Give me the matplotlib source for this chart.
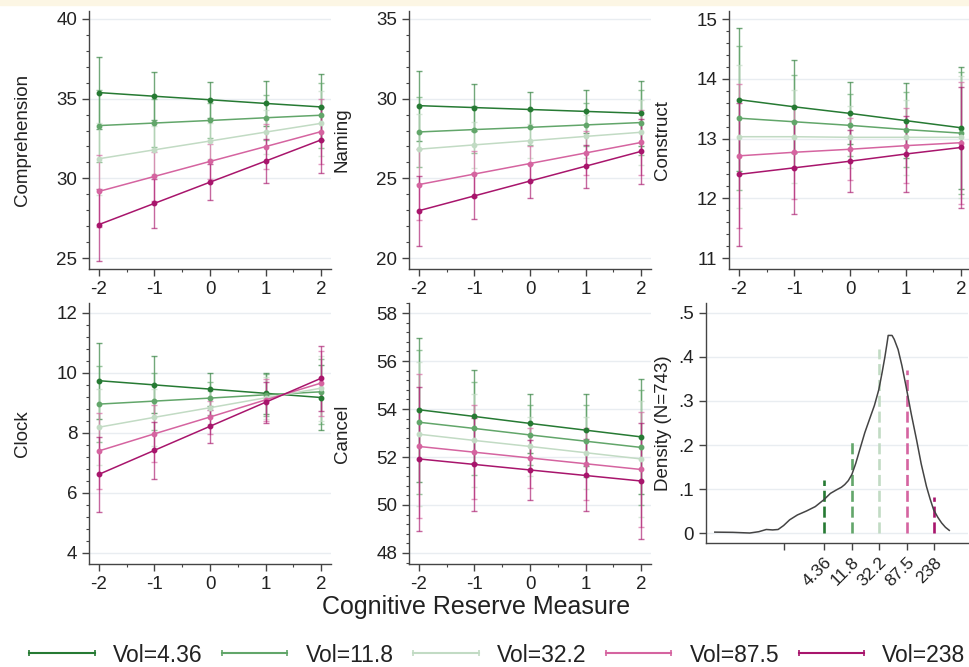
import numpy as np
import matplotlib
matplotlib.use("Agg")
import matplotlib.pyplot as plt
from matplotlib.lines import Line2D
from matplotlib.patches import Rectangle
from matplotlib.ticker import MultipleLocator, FixedLocator

plt.rcParams['font.family'] = ['Liberation Sans', 'DejaVu Sans']

W, H = 969, 667

cr_levels = [-2, -1, 0, 1, 2]
vol_levels = [4.36, 11.8, 32.2, 87.5, 238]
vol_labels = ["4.36", "11.8", "32.2", "87.5", "238"]
vol_colors = ["#267a33", "#62a66a", "#c2dbc4", "#d564a0", "#a8156c"]

# predicted scores, one row per volume level (4.36 ... 238)
comprehension = [
    [35.38, 35.15, 34.93, 34.70, 34.48],
    [33.31, 33.47, 33.63, 33.80, 33.96],
    [31.23, 31.79, 32.34, 32.90, 33.45],
    [29.18, 30.12, 31.06, 31.99, 32.93],
    [27.10, 28.43, 29.76, 31.08, 32.41],
]
comprehension_ci = [2.26, 1.52, 1.12, 1.40, 2.05]

naming = [
    [29.56, 29.44, 29.32, 29.20, 29.08],
    [27.91, 28.06, 28.20, 28.35, 28.50],
    [26.83, 27.10, 27.36, 27.63, 27.89],
    [24.61, 25.27, 25.93, 26.59, 27.25],
    [22.97, 23.90, 24.83, 25.76, 26.69],
]
naming_ci = [2.20, 1.45, 1.08, 1.35, 2.03]

construct = [
    [13.65, 13.53, 13.42, 13.30, 13.18],
    [13.34, 13.28, 13.22, 13.15, 13.09],
    [13.03, 13.03, 13.02, 13.02, 13.02],
    [12.71, 12.77, 12.82, 12.88, 12.93],
    [12.40, 12.51, 12.62, 12.74, 12.85],
]
construct_ci = [1.20, 0.78, 0.52, 0.63, 1.02]

clock = [
    [9.74, 9.60, 9.46, 9.32, 9.18],
    [8.96, 9.06, 9.16, 9.27, 9.37],
    [8.19, 8.52, 8.84, 9.17, 9.49],
    [7.40, 7.97, 8.53, 9.10, 9.66],
    [6.62, 7.42, 8.22, 9.02, 9.82],
]
clock_ci = [1.26, 0.95, 0.55, 0.69, 1.08]

cancel = [
    [53.97, 53.69, 53.40, 53.12, 52.84],
    [53.45, 53.19, 52.92, 52.66, 52.40],
    [52.95, 52.69, 52.44, 52.18, 51.92],
    [52.44, 52.20, 51.96, 51.72, 51.48],
    [51.92, 51.69, 51.46, 51.23, 51.00],
]
cancel_ci = [3.00, 1.95, 1.24, 1.50, 2.40]

# kernel density of log(volume)
density_logvol = [-2.50, -1.84, -1.23, -0.90, -0.63, -0.40, -0.20, 0.00, 0.22, 0.50,
                  0.83, 1.15, 1.47, 1.70, 1.92, 2.10, 2.22, 2.35, 2.48, 2.62,
                  2.77, 2.95, 3.13, 3.30, 3.46, 3.58, 3.68, 3.76, 3.80, 3.94,
                  4.02, 4.16, 4.30, 4.45, 4.64, 4.83, 5.00, 5.19, 5.32, 5.45,
                  5.60, 5.74, 5.88, 6.02]
density_vals = [0.002, 0.0015, 0.0, 0.003, 0.008, 0.007, 0.008, 0.017, 0.030, 0.041,
                0.050, 0.060, 0.076, 0.090, 0.098, 0.104, 0.110, 0.119, 0.133, 0.158,
                0.190, 0.228, 0.260, 0.290, 0.326, 0.365, 0.400, 0.432, 0.449, 0.449,
                0.440, 0.417, 0.380, 0.333, 0.270, 0.212, 0.157, 0.106, 0.078, 0.053,
                0.036, 0.023, 0.013, 0.006]
marker_heights = [0.121, 0.210, 0.418, 0.371, 0.081]

panels = [
    # label, values, ci, ylim, major step, minor step, left, top, bottom (px)
    ("Comprehension", comprehension, comprehension_ci, (24.31, 40.5), 5, 1, 89, 11, 269),
    ("Naming", naming, naming_ci, (19.31, 35.5), 5, 1, 409, 11, 269),
    ("Construct", construct, construct_ci, (10.816, 15.134), 1, 0.2, 729, 11, 269),
    ("Clock", clock, clock_ci, (3.63, 12.33), 2, 0.4, 89, 303, 564),
    ("Cancel", cancel, cancel_ci, (47.54, 58.42), 2, 0.4, 409, 303, 564),
]

fig = plt.figure(figsize=(W / 100, H / 100), dpi=100)
fig.patches.append(Rectangle((0, 1 - 5 / H), 1, 5 / H, transform=fig.transFigure,
                             color="#fcf6e4", zorder=0))


def add_px_axes(left, top, right, bottom):
    return fig.add_axes([left / W, 1 - bottom / H, (right - left) / W, (bottom - top) / H])


def style_axes(ax):
    for side in ("top", "right"):
        ax.spines[side].set_visible(False)
    for side in ("left", "bottom"):
        ax.spines[side].set_color("#444444")
        ax.spines[side].set_linewidth(1.0)
    ax.yaxis.grid(True, color="#e9edf1", lw=1.0)
    ax.set_axisbelow(True)
    ax.tick_params(which="major", direction="out", length=5, width=1,
                   color="#444444", labelsize=13.5, labelcolor="#222222")
    ax.tick_params(which="minor", direction="out", length=2.5, width=0.8, color="#444444")


for label, vals, ci, ylim, major, minor, left, top, bottom in panels:
    ax = add_px_axes(left, top, left + 242, bottom)
    style_axes(ax)
    for row, color in zip(vals, vol_colors):
        ax.errorbar(cr_levels, row, yerr=ci, fmt="none", ecolor=color, elinewidth=1.0,
                    capsize=2, capthick=1.0, alpha=0.65, zorder=2)
    for row, color in zip(vals, vol_colors):
        ax.plot(cr_levels, row, color=color, lw=1.1, marker="o", ms=3.2, zorder=3)
    ax.set_xlim(-2.18, 2.18)
    ax.set_ylim(*ylim)
    ax.xaxis.set_major_locator(FixedLocator(cr_levels))
    ax.xaxis.set_minor_locator(MultipleLocator(0.5))
    ax.yaxis.set_major_locator(MultipleLocator(major))
    ax.yaxis.set_minor_locator(MultipleLocator(minor))
    ax.set_xticklabels([str(v) for v in cr_levels])
    ax.set_ylabel(label, fontsize=13.5, color="#222222")
    ax.yaxis.set_label_coords(-0.24, 0.5)

# density panel
axd = add_px_axes(706, 303, 968, 543)
style_axes(axd)
axd.plot(density_logvol, density_vals, color="#444444", lw=1.1, zorder=3)
for v, h, color in zip(vol_levels, marker_heights, vol_colors):
    axd.plot([np.log(v), np.log(v)], [0, h], color=color, lw=1.9,
             dashes=(4.2, 1.8), zorder=2)
axd.set_xlim(-2.82, 6.7)
axd.set_ylim(-0.0227, 0.5227)
axd.set_xticks([0] + list(np.log(vol_levels)))
axd.set_xticklabels([""] + vol_labels, rotation=45, ha="right", rotation_mode="anchor",
                    fontsize=12.5)
axd.set_yticks([0, 0.1, 0.2, 0.3, 0.4, 0.5])
axd.set_yticklabels(["0", ".1", ".2", ".3", ".4", ".5"])
axd.set_ylabel("Density (N=743)", fontsize=13.5, color="#222222")
axd.yaxis.set_label_coords(-0.13, 0.5)

fig.text(476 / W, 1 - 607 / H, "Cognitive Reserve Measure", ha="center", va="center",
         fontsize=18, color="#222222")

handles = [Line2D([], [], color=c, lw=1.5, marker="|", ms=5, mew=1.2) for c in vol_colors]
labels = ["Vol=" + s for s in vol_labels]
fig.legend(handles, labels, loc="center", bbox_to_anchor=(494 / W, 1 - 655 / H), ncol=5,
           frameon=False, fontsize=16.5, handlelength=3.45, handletextpad=0.5,
           columnspacing=0.55, numpoints=2, labelcolor="#222222")

fig.savefig("out.png", dpi=100, facecolor="white")
